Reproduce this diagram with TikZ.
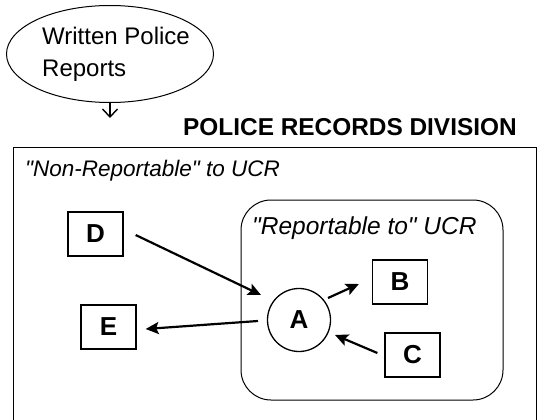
\documentclass[tikz,border=0pt]{standalone}
\usepackage{fontspec}
\setmainfont{Liberation Sans}
\usetikzlibrary{arrows.meta,calc,shapes.geometric}
\begin{document}
\begin{tikzpicture}[x=1pt,y=-1pt,
  box/.style={draw,line width=1.3pt,minimum width=55pt,minimum height=44pt,inner sep=0pt,font=\fontsize{26}{30}\selectfont\bfseries},
  arr/.style={line width=2.2pt,-{Stealth[length=13pt,width=12pt,inset=2.5pt]}},
  lbl/.style={anchor=base west,inner sep=0pt,font=\fontsize{22.5}{26}\selectfont\itshape},
  plain/.style={anchor=base west,inner sep=0pt,font=\fontsize{24}{28}\selectfont}
]
\clip (0,0) rectangle (538,420);
% source ellipse
\node[ellipse,draw,line width=1pt,minimum width=207pt,minimum height=97pt,inner sep=0pt] (src) at (110,54) {};
\node[plain] (t1) at (42,45) {Written Police};
\node[plain] (t2) at (42,77) {Reports};
\coordinate (intip) at (110,118);
\draw[line width=1.4pt,-{Straight Barb[length=8pt,width=15pt]}] (src.south) -- (intip);
% title
\node[anchor=base west,inner sep=0pt,font=\fontsize{24.4}{28}\selectfont\bfseries] (title) at (183,135) {POLICE RECORDS DIVISION};
% outer box
\draw[line width=1pt] (13,147) rectangle (536,440);
\node[lbl] (nonrep) at (25,176) {\textquotedbl Non-Reportable\textquotedbl\ to UCR};
% inner rounded box
\draw[line width=1pt,rounded corners=30pt] (241,200) rectangle (503,400);
\node[lbl,font=\fontsize{24.5}{28}\selectfont\itshape] (rep) at (252,234) {\textquotedbl Reportable to\textquotedbl\ UCR};
% nodes
\node[circle,draw,line width=1.3pt,minimum size=63pt,inner sep=0pt,font=\fontsize{26}{30}\selectfont\bfseries] (A) at (299,320) {A};
\node[box] (D) at (95.5,234) {D};
\node[box] (E) at (108.5,327) {E};
\node[box] (B) at (400,282) {B};
\node[box] (C) at (412.5,355) {C};
% arrows
\draw[arr] ($(D.east)+(12,1)$) -- ($(A.center)+(-38,-25)$);
\draw[arr] ($(A.center)+(29,-22)$) -- ($(B.west)+(-13,2)$);
\draw[arr] ($(A.center)+(-41,1)$) -- ($(E.east)+(9,2)$);
\draw[arr] ($(C.west)+(-7,-2)$) -- ($(A.center)+(36,15)$);
\end{tikzpicture}
\end{document}
